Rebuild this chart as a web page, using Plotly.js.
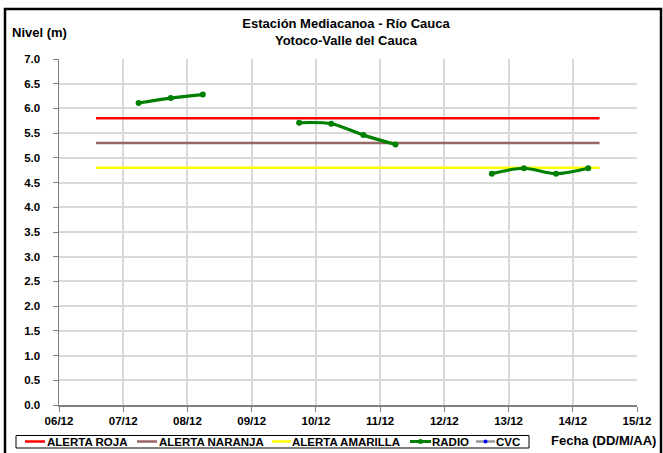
<!DOCTYPE html>
<html>
<head>
<meta charset="utf-8">
<script src="https://cdn.plot.ly/plotly-3.0.1.min.js"></script>
<style>html,body{margin:0;padding:0;background:#fff;}#chart{width:663px;height:453px;}</style>
</head>
<body>
<div id="chart"></div>
<script>
// ---- data ----
const radioX = ['2012-12-07 05:45','2012-12-07 17:45','2012-12-08 05:45', null,
                '2012-12-09 17:45','2012-12-10 05:45','2012-12-10 17:45','2012-12-11 05:45', null,
                '2012-12-12 17:45','2012-12-13 05:45','2012-12-13 17:45','2012-12-14 05:45'];
const radioY = [6.11, 6.21, 6.28, null,
                5.71, 5.69, 5.46, 5.27, null,
                4.68, 4.79, 4.68, 4.79];
const alertX = ['2012-12-06 13:50', '2012-12-14 10:00'];
const alertaRoja = [5.8, 5.8];
const alertaNaranja = [5.3, 5.3];
const alertaAmarilla = [4.8, 4.8];
const cvcX = [];
const cvcY = [];
const seriesNames = ['ALERTA ROJA','ALERTA NARANJA','ALERTA AMARILLA','RADIO','CVC'];
const xRange = ['2012-12-06', '2012-12-15'];
const yRange = [0, 7];

// ---- layout helpers (pixel -> paper) ----
const W = 663, H = 453, L = 59, R = 637, T = 59, B = 405;
const px = v => (v - L) / (R - L);
const py = v => (B - v) / (B - T);
const FONT = 'Arial, "Liberation Sans", sans-serif';
const colors = ['#ff0000', '#996666', '#ffff00', '#008000', '#9a9a9a'];

const traces = [
  {x: alertX, y: alertaRoja, name: seriesNames[0], mode: 'lines', line: {color: colors[0], width: 2.5}},
  {x: alertX, y: alertaNaranja, name: seriesNames[1], mode: 'lines', line: {color: colors[1], width: 2.5}},
  {x: alertX, y: alertaAmarilla, name: seriesNames[2], mode: 'lines', line: {color: colors[2], width: 2.5}},
  {x: radioX, y: radioY, name: seriesNames[3], mode: 'lines+markers', connectgaps: false,
   line: {color: colors[3], width: 3.2, shape: 'spline', smoothing: 0.9},
   marker: {color: colors[3], size: 6}},
  {x: cvcX, y: cvcY, name: seriesNames[4], mode: 'lines+markers',
   line: {color: colors[4], width: 2}, marker: {color: '#0000ff', size: 4}}
];

// manual legend (Excel-style compact box)
const legY = 441.5;
const samples = [[25,45],[137,157],[272,291],[410,431],[476,495]];
const textX = [47,159,292,432,496];
const shapes = [
  {type: 'rect', xref: 'paper', yref: 'paper', x0: px(5), x1: px(661), y0: py(9), y1: py(470),
   line: {color: '#000', width: 2.5}, fillcolor: 'rgba(0,0,0,0)'},
  {type: 'rect', xref: 'paper', yref: 'paper', x0: px(16), x1: px(529), y0: py(435.5), y1: py(448),
   line: {color: '#000', width: 1}, fillcolor: 'rgba(0,0,0,0)'}
];
const annotations = [
  {text: 'Nivel (m)', xref: 'paper', yref: 'paper', x: px(10), y: py(33), xanchor: 'left', yanchor: 'middle',
   showarrow: false, font: {family: FONT, size: 13, color: '#000', weight: 'bold'}},
  {text: 'Fecha (DD/M/AA)', xref: 'paper', yref: 'paper', x: px(549), y: py(440), xanchor: 'left', yanchor: 'middle',
   showarrow: false, font: {family: FONT, size: 13, color: '#000', weight: 'bold'}}
];
samples.forEach((s, i) => {
  shapes.push({type: 'line', xref: 'paper', yref: 'paper', x0: px(s[0]), x1: px(s[1]), y0: py(legY), y1: py(legY),
    line: {color: colors[i], width: i === 3 ? 3 : 2.5}});
  annotations.push({text: seriesNames[i], xref: 'paper', yref: 'paper', x: px(textX[i] - 2), y: py(legY),
    xanchor: 'left', yanchor: 'middle', showarrow: false,
    font: {family: FONT, size: 11.5, color: '#000', weight: 'bold'}});
});
// markers in legend samples
[[3, '#008000', 5], [4, '#0000ff', 4]].forEach(([i, c, d]) => {
  const cx = (samples[i][0] + samples[i][1]) / 2;
  shapes.push({type: 'circle', xref: 'paper', yref: 'paper', x0: px(cx - d/2), x1: px(cx + d/2),
    y0: py(legY + d/2), y1: py(legY - d/2), line: {width: 0}, fillcolor: c});
});

const layout = {
  width: W, height: H,
  margin: {l: L, r: W - R, t: T, b: H - B, pad: 0},
  paper_bgcolor: '#fff', plot_bgcolor: '#fff',
  showlegend: false,
  font: {family: FONT, color: '#000'},
  title: {text: 'Estación Mediacanoa - Río Cauca<br>Yotoco-Valle del Cauca',
          x: px(346), xanchor: 'center', xref: 'paper', y: 1 - 28 / H, yanchor: 'middle',
          font: {family: FONT, size: 13, color: '#000', weight: 'bold'}},
  xaxis: {type: 'date', range: xRange, tick0: '2012-12-06', dtick: 86400000, tickformat: '%d/%m',
          showgrid: true, gridcolor: '#d9d9d9', gridwidth: 2,
          showline: true, linecolor: '#808080', linewidth: 1.5,
          ticks: 'outside', ticklen: 5, tickcolor: '#808080', tickwidth: 1,
          tickfont: {family: FONT, size: 11.5, color: '#000', weight: 'bold'},
          zeroline: false, fixedrange: true},
  yaxis: {range: yRange, dtick: 0.5, tick0: 0, tickformat: '.1f',
          showgrid: true, gridcolor: '#d9d9d9', gridwidth: 2,
          showline: true, linecolor: '#808080', linewidth: 1.5,
          ticks: 'outside', ticklen: 5, tickcolor: '#808080', tickwidth: 1,
          ticklabelstandoff: 10,
          tickfont: {family: FONT, size: 11.5, color: '#000', weight: 'bold'},
          zeroline: false, fixedrange: true},
  shapes: shapes,
  annotations: annotations
};

Plotly.newPlot('chart', traces, layout, {displayModeBar: false, staticPlot: true});
</script>
</body>
</html>
